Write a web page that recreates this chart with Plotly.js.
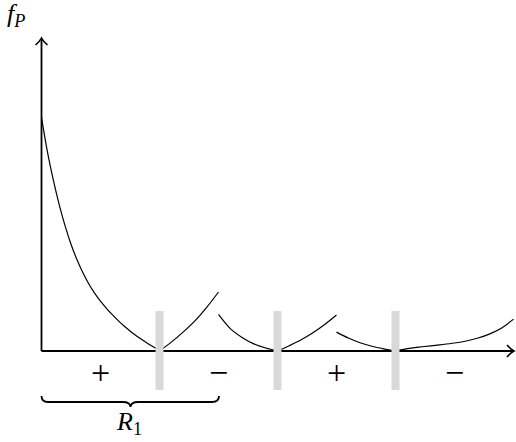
<!DOCTYPE html>
<html>
<head>
<meta charset="utf-8">
<script src="https://cdn.plot.ly/plotly-3.0.1.min.js"></script>
<style>
  body { margin: 0; background: #fff; }
  #plot { width: 516px; height: 442px; }
</style>
</head>
<body>
<div id="plot"></div>
<script>
// branches of f_P (x in units between boundaries)
var xA = [0, 0.05, 0.1, 0.15, 0.2, 0.25, 0.3, 0.35, 0.4, 0.45, 0.5,
          0.55, 0.6, 0.65, 0.7, 0.75, 0.8, 0.85, 0.9, 0.95, 1.0];
var yA = [1.98, 1.69, 1.45, 1.24, 1.06, 0.905, 0.775, 0.665, 0.57, 0.49, 0.422,
          0.362, 0.308, 0.258, 0.212, 0.17, 0.132, 0.097, 0.064, 0.033, 0];

var xB = [1.0, 1.1, 1.2, 1.3, 1.4, 1.5];
var yB = [0, 0.075, 0.16, 0.255, 0.37, 0.5];

var xC = [1.5, 1.6, 1.7, 1.8, 1.9, 2.0];
var yC = [0.31, 0.19, 0.115, 0.06, 0.025, 0];

var xD = [2.0, 2.1, 2.2, 2.3, 2.4, 2.5];
var yD = [0, 0.045, 0.095, 0.155, 0.225, 0.305];

var xE = [2.5, 2.6, 2.7, 2.8, 2.9, 3.0];
var yE = [0.16, 0.11, 0.07, 0.04, 0.018, 0];

var xF = [3.0, 3.1, 3.2, 3.3, 3.4, 3.5, 3.6, 3.7, 3.8, 3.9, 4.0];
var yF = [0, 0.02, 0.033, 0.044, 0.055, 0.068, 0.085, 0.11, 0.145, 0.195, 0.27];

var boundaries = [1, 2, 3];
var signX = [0.5, 1.5, 2.5, 3.5];
var signs = ["+", "\u2212", "+", "\u2212"];

// pixel -> data helpers (origin of the axes at 41.5, 351; 118 px per unit)
var ox = 41.5, oy = 351, s = 118;
function px(x) { return (x - ox) / s; }
function py(y) { return (oy - y) / s; }
function pt(x, y) { return px(x).toFixed(4) + "," + py(y).toFixed(4); }

var branches = [[xA, yA], [xB, yB], [xC, yC], [xD, yD], [xE, yE], [xF, yF]];
var data = branches.map(function (b) {
  return {
    x: b[0], y: b[1],
    type: "scatter", mode: "lines",
    line: {color: "#000", width: 1.2, shape: "spline", smoothing: 1, simplify: false},
    hoverinfo: "skip"
  };
});

var shapes = [];
// axes
shapes.push({type: "line", x0: 0, y0: 0, x1: px(513), y1: 0, line: {color: "#000", width: 1.8}, layer: "above"});
shapes.push({type: "line", x0: 0, y0: 0, x1: 0, y1: py(39), line: {color: "#000", width: 1.8}, layer: "above"});
shapes.push({type: "path", path: "M" + pt(507, 345) + " Q" + pt(511, 349.5) + " " + pt(514, 351) + " Q" + pt(511, 352.5) + " " + pt(507, 357),
  line: {color: "#000", width: 1.6}, layer: "above"});
shapes.push({type: "path", path: "M" + pt(35.5, 45) + " Q" + pt(40, 41) + " " + pt(41.5, 38) + " Q" + pt(43, 41) + " " + pt(47.5, 45),
  line: {color: "#000", width: 1.6}, layer: "above"});
// boundary bars
boundaries.forEach(function (b) {
  shapes.push({type: "rect", x0: b - 4 / s, x1: b + 4 / s, y0: py(390), y1: py(311),
    fillcolor: "#d9d9d9", line: {width: 0}, layer: "above"});
});
// brace under R1
shapes.push({type: "path",
  path: "M" + pt(41.5, 396) + " Q" + pt(41.5, 402) + " " + pt(48, 402) +
        " L" + pt(123, 402) + " Q" + pt(130, 402) + " " + pt(130.5, 407) +
        " Q" + pt(131, 402) + " " + pt(138, 402) +
        " L" + pt(212, 402) + " Q" + pt(219, 402) + " " + pt(219, 396),
  line: {color: "#000", width: 1.8}, layer: "above"});

var serif = "Liberation Serif";
var annotations = signX.map(function (x, i) {
  return {x: x, y: py(372), text: signs[i], showarrow: false,
    xanchor: "center", yanchor: "middle",
    font: {family: serif, size: 34, color: "#000"}};
});
annotations.push({x: px(16), y: py(15), text: "<i>f</i><sub><i>P</i></sub>", showarrow: false,
  xanchor: "center", yanchor: "middle", font: {family: serif, size: 26, color: "#000"}});
annotations.push({x: px(129), y: py(423), text: "<i>R</i><sub>1</sub>", showarrow: false,
  xanchor: "center", yanchor: "middle", font: {family: serif, size: 26, color: "#000"}});

var layout = {
  width: 516, height: 442,
  margin: {l: 0, r: 0, t: 0, b: 0},
  paper_bgcolor: "#fff", plot_bgcolor: "#fff",
  showlegend: false,
  xaxis: {range: [px(0), px(516)], visible: false, fixedrange: true},
  yaxis: {range: [py(442), py(0)], visible: false, fixedrange: true},
  shapes: shapes,
  annotations: annotations
};

Plotly.newPlot("plot", data, layout, {staticPlot: true});
</script>
</body>
</html>
